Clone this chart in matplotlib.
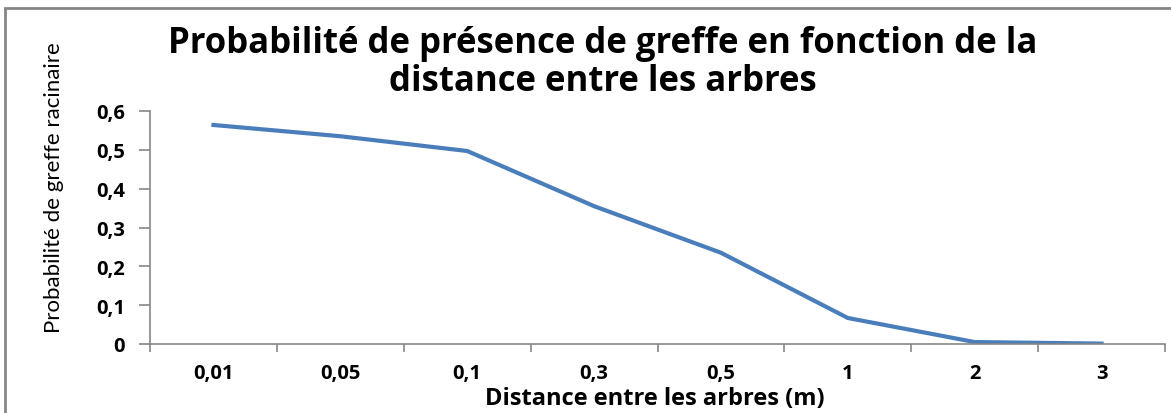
import matplotlib
matplotlib.use("Agg")
import matplotlib.pyplot as plt
from matplotlib.patches import Rectangle

categories = ["0,01", "0,05", "0,1", "0,3", "0,5", "1", "2", "3"]
probabilities = [0.564, 0.535, 0.497, 0.355, 0.235, 0.067, 0.005, 0.001]
yticks = [0, 0.1, 0.2, 0.3, 0.4, 0.5, 0.6]
ytick_labels = ["0", "0,1", "0,2", "0,3", "0,4", "0,5", "0,6"]

W, H = 1171, 414
fig = plt.figure(figsize=(W / 100, H / 100), dpi=100)
fig.patch.set_facecolor("white")

# outer chart border (top and left visible)
fig.add_artist(Rectangle((4.5 / W, -0.1), 1.2, (H - 8.5) / H + 0.1,
                         transform=fig.transFigure, fill=False,
                         edgecolor="#868686", linewidth=2))

left, right, top, bottom = 150, 1165, 112, 345
ax = fig.add_axes([left / W, 1 - bottom / H, (right - left) / W, (bottom - top) / H])

x = list(range(len(categories)))
ax.plot(x, probabilities, color="#4A7EBB", linewidth=3, solid_joinstyle="round")

ax.set_xlim(-0.5, len(categories) - 0.5)
ax.set_ylim(0, 0.6)
ax.set_yticks(yticks)
ax.set_yticklabels(ytick_labels)
ax.set_xticks(x)
ax.set_xticklabels(categories)
ax.set_xticks([i - 0.5 for i in range(len(categories) + 1)], minor=True)

ax.spines["top"].set_visible(False)
ax.spines["right"].set_visible(False)
for s in ["left", "bottom"]:
    ax.spines[s].set_color("#868686")
    ax.spines[s].set_linewidth(1.2)

fam = ["Open Sans", "DejaVu Sans"]
for lab in ax.get_xticklabels() + ax.get_yticklabels():
    lab.set_fontfamily(fam)
    lab.set_fontweight("bold")
    lab.set_fontsize(14.5)
ax.tick_params(axis="x", which="major", length=0, pad=14, colors="black")
ax.tick_params(axis="x", which="minor", length=6, width=1.2, color="#868686")
ax.tick_params(axis="y", which="major", length=8, width=1.2, color="#868686", pad=10)

ax.set_xlabel("Distance entre les arbres (m)", fontfamily=fam,
              fontweight="bold", fontsize=17)
ax.xaxis.set_label_coords((0.5 * (452 + 857) - left) / (right - left),
                          -(405 - bottom) / (bottom - top))
ax.xaxis.label.set_verticalalignment("baseline")
ax.set_ylabel("Probabilité de greffe racinaire",
              fontfamily=["Liberation Sans Narrow", "Lato", "DejaVu Sans"],
              fontsize=16)
ax.yaxis.set_label_coords((64 - left) / (right - left), (bottom - 188) / (bottom - top))

fig.text(0.5 * (148 + 1058) / W, 1 - 63 / H,
         "Probabilité de présence de greffe en fonction de la\ndistance entre les arbres",
         ha="center", va="center", fontfamily=fam,
         fontweight="bold", fontsize=25, linespacing=1.1)

fig.savefig("out.png", dpi=100, facecolor="white")
